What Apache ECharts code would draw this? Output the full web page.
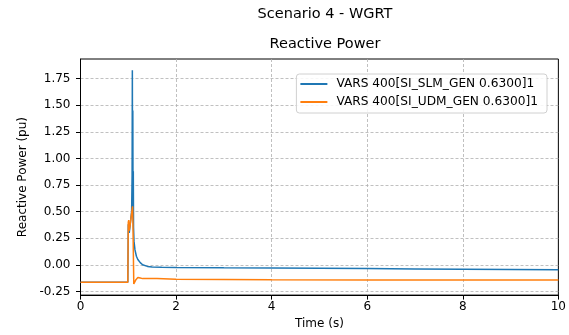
<!DOCTYPE html>
<html>
<head>
<meta charset="utf-8">
<script src="https://cdn.jsdelivr.net/npm/echarts@6/dist/echarts.min.js"></script>
<style>html,body{margin:0;padding:0;background:#fff}#c{width:569px;height:335px}</style>
</head>
<body>
<div id="c"></div>
<script>
var seriesNames = ['VARS 400[SI_SLM_GEN 0.6300]1', 'VARS 400[SI_UDM_GEN 0.6300]1'];
var timeSLM = [0, 0.99, 1.0, 1.02, 1.05, 1.07, 1.08, 1.085, 1.09, 1.095, 1.10, 1.105, 1.11, 1.12, 1.14, 1.17, 1.2, 1.25, 1.3, 1.4, 1.5, 1.7, 2, 3, 4, 5, 6, 7, 8, 9, 10];
var valSLM = [-0.165, -0.165, 0.38, 0.30, 0.42, 0.50, 0.85, 1.83, 0.60, 1.45, 0.45, 0.88, 0.35, 0.22, 0.14, 0.08, 0.05, 0.02, 0.0, -0.015, -0.02, -0.023, -0.025, -0.028, -0.03, -0.033, -0.036, -0.039, -0.042, -0.045, -0.047];
var timeUDM = [0, 0.99, 1.0, 1.01, 1.02, 1.04, 1.06, 1.08, 1.09, 1.10, 1.115, 1.13, 1.16, 1.2, 1.25, 1.3, 1.6, 2, 4, 6, 8, 10];
var valUDM = [-0.165, -0.165, 0.40, 0.42, 0.32, 0.38, 0.45, 0.52, 0.55, 0.30, -0.18, -0.17, -0.14, -0.12, -0.125, -0.13, -0.13, -0.135, -0.14, -0.142, -0.143, -0.143];
var xTicks = [0, 2, 4, 6, 8, 10];
var yTicks = [-0.25, 0, 0.25, 0.5, 0.75, 1.0, 1.25, 1.5, 1.75];

function pairs(t, v) { return t.map(function (x, i) { return [x, v[i]]; }); }

var font = 'DejaVu Sans';
var chart = echarts.init(document.getElementById('c'), null, {renderer: 'canvas'});
chart.setOption({
  animation: false,
  backgroundColor: '#fff',
  textStyle: {fontFamily: font},
  title: [
    {text: 'Scenario 4 - WGRT', left: 320, top: 2, textAlign: 'center',
     textStyle: {fontFamily: font, fontSize: 14.5, fontWeight: 'normal', color: '#000'}},
    {text: 'Reactive Power', left: 320, top: 32, textAlign: 'center',
     textStyle: {fontFamily: font, fontSize: 14.5, fontWeight: 'normal', color: '#000'}}
  ],
  legend: {
    orient: 'vertical', right: 22, top: 74,
    backgroundColor: 'rgba(255,255,255,0.85)', borderColor: '#d0d0d0', borderWidth: 1, borderRadius: 3,
    padding: [4, 9, 5, 4], itemGap: 6, itemWidth: 27, itemHeight: 2, icon: 'rect',
    textStyle: {fontFamily: font, fontSize: 12.2, color: '#000', padding: [0, 0, 0, 4]},
    data: seriesNames
  },
  grid: {left: 80.5, right: 9, top: 59, bottom: 37, show: true, borderColor: '#000', borderWidth: 1, containLabel: false},
  xAxis: {
    type: 'value', min: 0, max: 10, interval: 2,
    name: 'Time (s)', nameLocation: 'middle', nameGap: 21.5,
    nameTextStyle: {fontFamily: font, fontSize: 12, color: '#000'},
    axisLine: {show: true, onZero: false, lineStyle: {color: '#000'}},
    axisTick: {show: true, inside: false, length: 4.5, lineStyle: {color: '#000'}},
    axisLabel: {fontFamily: font, fontSize: 12, color: '#000', margin: 6,
      formatter: function (v) { return String(v); }},
    splitLine: {show: true, showMinLine: false, showMaxLine: false, lineStyle: {color: '#b0b0b0', type: [3, 2], width: 0.8}}
  },
  yAxis: {
    type: 'value', min: -0.285, max: 1.935,
    name: 'Reactive Power (pu)', nameLocation: 'middle', nameGap: 52,
    nameTextStyle: {fontFamily: font, fontSize: 12, color: '#000'},
    axisLine: {show: true, onZero: false, lineStyle: {color: '#000'}},
    axisTick: {show: true, inside: false, length: 4.5, lineStyle: {color: '#000'}, customValues: yTicks},
    axisLabel: {fontFamily: font, fontSize: 12, color: '#000', margin: 10, customValues: yTicks,
      formatter: function (v) { return v.toFixed(2); }},
    splitLine: {show: true, lineStyle: {color: '#b0b0b0', type: [3, 2], width: 0.8}}
  },
  series: [
    {name: seriesNames[0], type: 'line', data: pairs(timeSLM, valSLM), showSymbol: false, symbol: 'none',
     lineStyle: {color: '#1f77b4', width: 1.5}, itemStyle: {color: '#1f77b4'}},
    {name: seriesNames[1], type: 'line', data: pairs(timeUDM, valUDM), showSymbol: false, symbol: 'none',
     lineStyle: {color: '#ff7f0e', width: 1.5}, itemStyle: {color: '#ff7f0e'}}
  ]
});
</script>
</body>
</html>
